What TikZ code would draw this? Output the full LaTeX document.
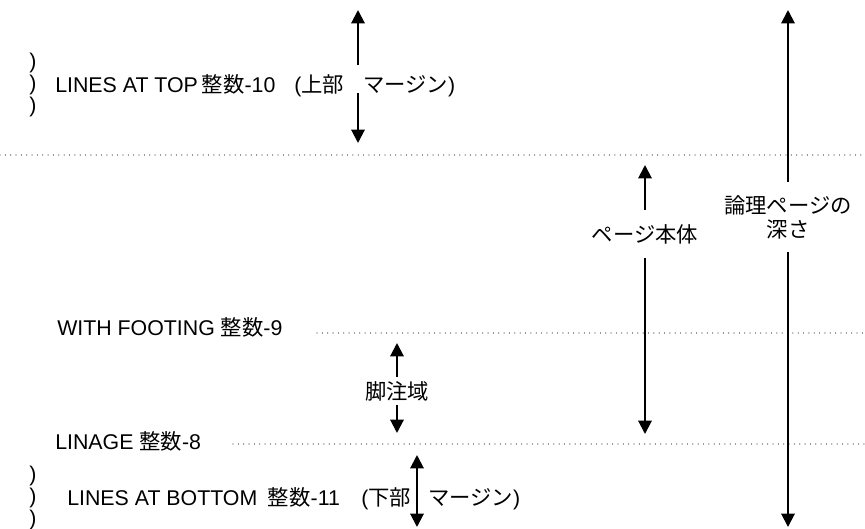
\documentclass[tikz,border=0pt]{standalone}
\usepackage{fontspec}
\setmainfont{Liberation Sans}
\newfontfamily\jp{Noto Sans CJK JP}
\usetikzlibrary{arrows.meta,positioning}
\tikzset{
  txt/.style={inner sep=0pt, font=\fontsize{16}{19}\selectfont},
  parens/.style={inner sep=0pt, align=center, font=\fontsize{16}{16.5}\selectfont},
  tag/.style={inner sep=0pt, align=center, font=\jp\fontsize{16}{18}\selectfont},
  dimarrow/.style={-{Triangle[length=10pt,width=10pt]}, line width=1.5pt},
  dblarrow/.style={{Triangle[length=10pt,width=10pt]}-{Triangle[length=10pt,width=10pt]}, line width=1.5pt},
  dotline/.style={black!50, line width=0.9pt, dash pattern=on 0.01pt off 4pt, line cap=round},
}
\begin{document}
\begin{tikzpicture}[x=0.75pt, y=-0.75pt]
\useasboundingbox (0,0) rectangle (865,529);

% top margin
\node[parens] (topparen) at (33,85) {)\\)\\)};
\node[txt, anchor=base west] (toptxt) at (55,92) {LINES AT TOP\hspace{3pt}{\jp 整数}-10};
\node[txt, anchor=base west] (topmarg) at (294,92) {({\jp 上部}};
\node[txt, anchor=base west] (topmarg2) at (363,92) {{\jp マージン})};
\coordinate (tmtop) at (358,10);
\coordinate (tmbot) at (358,143);
\coordinate (tmgapA) at (358,65);
\coordinate (tmgapB) at (358,93);
\draw[dimarrow] (tmgapA) -- (tmtop);
\draw[dimarrow] (tmgapB) -- (tmbot);

% guide lines
\coordinate (topA) at (0,155);
\coordinate (topB) at (865,155);
\coordinate (footA) at (317,333);
\coordinate (footB) at (865,333);
\coordinate (linA) at (233,444);
\coordinate (linB) at (865,444);
\draw[dotline] (topA) -- (topB);
\draw[dotline] (footA) -- (footB);
\draw[dotline] (linA) -- (linB);

\node[txt, anchor=base west] (footing) at (57,335) {WITH FOOTING {\jp 整数}-9};
\node[txt, anchor=base west] (linage) at (55,449) {LINAGE {\jp 整数}-8};

% footnote area
\node[tag, minimum height=21pt] (fnote) at (397,391) {脚注域};
\coordinate (fntop) at (397,343);
\coordinate (fnbot) at (397,433);
\draw[dimarrow] (fnote) -- (fntop);
\draw[dimarrow] (fnote) -- (fnbot);

% page body
\node[tag, minimum height=36pt] (body) at (645,234) {ページ本体};
\coordinate (bodytop) at (645,165);
\coordinate (bodybot) at (645,434);
\draw[dimarrow] (body) -- (bodytop);
\draw[dimarrow] (body) -- (bodybot);

% logical page depth
\node[tag, minimum height=52.5pt] (depth) at (788,217) {論理ページの\\深さ};
\coordinate (depthtop) at (788,10);
\coordinate (depthbot) at (788,527);
\draw[dimarrow] (depth) -- (depthtop);
\draw[dimarrow] (depth) -- (depthbot);

% bottom margin
\node[parens] (botparen) at (33,498) {)\\)\\)};
\node[txt, anchor=base west] (bottxt) at (67,505) {LINES AT BOTTOM\hspace{8pt}{\jp 整数}-11};
\node[txt, anchor=base west] (botmarg) at (361,505) {({\jp 下部}};
\node[txt, anchor=base west] (botmarg2) at (428,505) {{\jp マージン})};
\coordinate (bmtop) at (417,455);
\coordinate (bmbot) at (417,527);
\draw[dblarrow] (bmtop) -- (bmbot);

\end{tikzpicture}
\end{document}
